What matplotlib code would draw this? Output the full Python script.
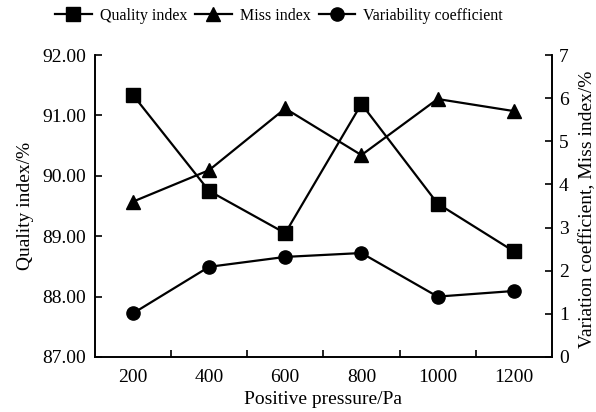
import matplotlib
matplotlib.use('Agg')
import matplotlib.pyplot as plt
from matplotlib.ticker import FixedLocator

plt.rcParams['font.family'] = ['Liberation Serif', 'DejaVu Serif']
plt.rcParams['font.size'] = 14

# data
pressure = ['200', '400', '600', '800', '1000', '1200']
quality = [91.34, 89.75, 89.05, 91.19, 89.54, 88.75]
miss = [3.60, 4.33, 5.76, 4.68, 5.98, 5.70]
variab = [1.01, 2.09, 2.32, 2.41, 1.40, 1.53]

x = list(range(len(pressure)))

fig = plt.figure(figsize=(5.96, 4.12), dpi=100)
ax = fig.add_axes([0.159, 0.1335, 0.767, 0.733])
ax2 = ax.twinx()

lw = 1.6
l1, = ax.plot(x, quality, color='black', lw=lw, marker='s', ms=10, label='Quality index')
l2, = ax2.plot(x, miss, color='black', lw=lw, marker='^', ms=10, label='Miss index')
l3, = ax2.plot(x, variab, color='black', lw=lw, marker='o', ms=9.5, label='Variability coefficient')

ax.set_xlim(-0.5, len(pressure) - 0.5)
ax.set_ylim(87, 92)
ax2.set_ylim(0, 7)
ax.set_yticks([87, 88, 89, 90, 91, 92])
ax.set_yticklabels(['87.00', '88.00', '89.00', '90.00', '91.00', '92.00'])
ax2.set_yticks(range(0, 8))

ax.set_xticks(x)
ax.set_xticklabels(pressure)
ax.tick_params(axis='x', which='major', length=0, pad=9)
ax.xaxis.set_minor_locator(FixedLocator([i + 0.5 for i in x[:-1]]))
ax.tick_params(axis='x', which='minor', direction='in', length=5, width=1.2)
ax.tick_params(axis='y', direction='in', length=5, width=1.2, pad=6)
ax2.tick_params(axis='y', direction='in', length=5, width=1.2, pad=5)

for a in (ax, ax2):
    a.spines['top'].set_visible(False)
    for s in a.spines.values():
        s.set_linewidth(1.2)

ax.set_xlabel('Positive pressure/Pa', labelpad=3)
ax.set_ylabel('Quality index/%', labelpad=6)
ax2.set_ylabel('Variation coefficient, Miss index/%', fontsize=14, va='center')
ax2.yaxis.set_label_coords(1.077, 0.49)

fig.legend(handles=[l1, l2, l3], loc='center', bbox_to_anchor=(0.468, 0.962), ncol=3,
           frameon=False, handlelength=2.3, columnspacing=0.5, handletextpad=0.5,
           fontsize=11.5)

fig.savefig('out.png', dpi=100)
